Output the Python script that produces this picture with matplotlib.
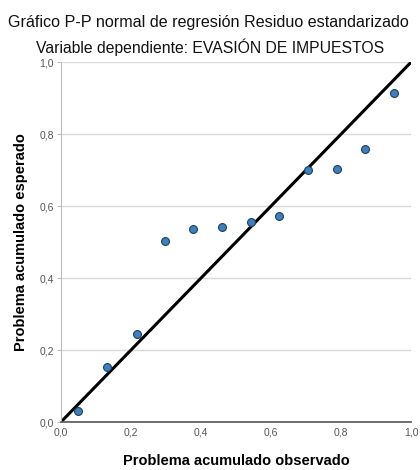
import numpy as np
from matplotlib import pyplot as plt
from matplotlib.ticker import FuncFormatter

obs_prob = [0.050, 0.133, 0.216, 0.297, 0.378, 0.460, 0.542, 0.623, 0.706, 0.787, 0.869, 0.951]
exp_prob = [0.031, 0.153, 0.244, 0.503, 0.535, 0.543, 0.557, 0.572, 0.699, 0.702, 0.758, 0.915]
ticks = [0.0, 0.2, 0.4, 0.6, 0.8, 1.0]

plt.rcParams['font.family'] = ['Liberation Sans', 'DejaVu Sans']

fig = plt.figure(figsize=(4.2, 4.7), dpi=100)
ax = fig.add_axes([0.145, 0.102, 0.834, 0.766])

# horizontal grid lines
for t in ticks[1:]:
    ax.axhline(t, color='#d9d9d9', lw=1.0, zorder=0)

ax.plot([0, 1], [0, 1], color='black', lw=2.2, zorder=2)
ax.scatter(obs_prob, exp_prob, s=32, color='#3d7fbf', edgecolor='#1f3f5f',
           linewidth=0.8, zorder=3)

ax.set_xlim(0, 1)
ax.set_ylim(0, 1)
ax.set_xticks(ticks)
ax.set_yticks(ticks)
fmt = FuncFormatter(lambda v, p: f'{v:.1f}'.replace('.', ','))
ax.xaxis.set_major_formatter(fmt)
ax.yaxis.set_major_formatter(fmt)
ax.tick_params(axis='x', length=0, labelsize=7.5, labelcolor='#555555', pad=4)
ax.tick_params(axis='y', length=3, color='#bbbbbb', labelsize=7.5,
               labelcolor='#555555', pad=2)

for s in ['top', 'right']:
    ax.spines[s].set_visible(False)
ax.spines['left'].set_color('#bbbbbb')
ax.spines['bottom'].set_color('#555555')
ax.spines['bottom'].set_linewidth(1.2)

ax.set_xlabel('Problema acumulado observado', fontsize=10.5, fontweight='bold', labelpad=12)
ax.set_ylabel('Problema acumulado esperado', fontsize=10.5, fontweight='bold', labelpad=8)

fig.text(0.497, 0.953, 'Gráfico P-P normal de regresión Residuo estandarizado',
         ha='center', va='center', fontsize=11.6, color='#111111')
fig.text(0.50, 0.90, 'Variable dependiente: EVASIÓN DE IMPUESTOS',
         ha='center', va='center', fontsize=11.3, color='#111111')

plt.savefig('out.png', dpi=100)
